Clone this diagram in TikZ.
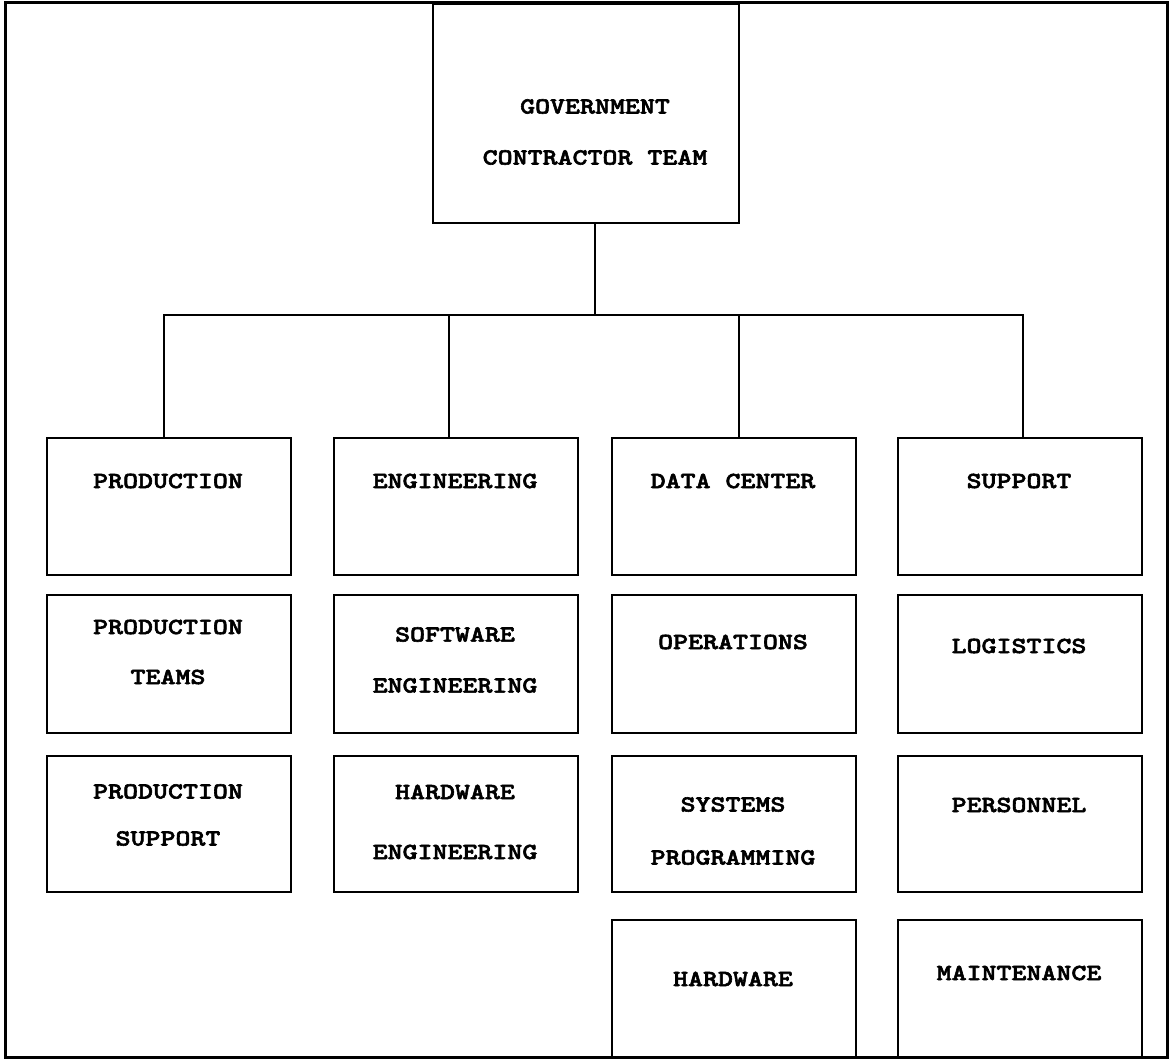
\documentclass[tikz,border=0pt]{standalone}
\usepackage{fontspec}
\newfontfamily\orgfont{lmmonolt10-bold.otf}[FakeStretch=1.24, FakeBold=2.5]
\tikzset{
  orgbox/.style={draw, line width=2pt, minimum width=244pt, minimum height=137pt, inner sep=0pt, anchor=north west},
  unitname/.style={font=\fontsize{23}{50}\selectfont\orgfont, align=center, inner sep=0pt},
  wire/.style={line width=2pt}
}
\begin{document}
\begin{tikzpicture}[x=1pt, y=-1pt]
	\useasboundingbox (0,0) rectangle (1171,1059);
	% outer frame
	\draw[line width=3pt] (5,3) rectangle (1167,1057);
	
	% TOP: government / contractor team
	\node[orgbox, minimum width=306pt, minimum height=219pt] (gov) at (432,3) {};
	\node[unitname] (govT) at (595,132) {GOVERNMENT\\[1pt]CONTRACTOR TEAM};
	
	% FIRST ROW: the four divisions
	\node[orgbox] (prod) at (46,437) {};
	\node[orgbox] (eng) at (333,437) {};
	\node[orgbox] (dc) at (611,437) {};
	\node[orgbox] (sup) at (897,437) {};
	\node[unitname] (prodT) at (168,481) {PRODUCTION};
	\node[unitname] (engT) at (455,481) {ENGINEERING};
	\node[unitname] (dcT) at (733,481) {DATA CENTER};
	\node[unitname] (supT) at (1019,481) {SUPPORT};
	
	% tree lines, bus at y=315
	\coordinate (bus) at (595,315);
	\draw[wire] (bus |- gov.south) -- (bus);
	\draw[wire] ([xshift=-5pt]prod.north) |- (bus) -| ([xshift=3pt]sup.north);
	\draw[wire] ([xshift=-7pt]eng.north) -- ([xshift=-7pt]eng.north |- bus);
	\draw[wire] ([xshift=5pt]dc.north) -- ([xshift=5pt]dc.north |- bus);
	
	% SECOND ROW
	\node[orgbox, minimum height=138pt] (team) at (46,594) {};
	\node[orgbox, minimum height=138pt] (soft) at (333,594) {};
	\node[orgbox, minimum height=138pt] (ops) at (611,594) {};
	\node[orgbox, minimum height=138pt] (logi) at (897,594) {};
	\node[unitname] (teamT) at (168,652) {PRODUCTION\\TEAMS};
	\node[unitname] (softT) at (455,660) {SOFTWARE\\[1pt]ENGINEERING};
	\node[unitname] (opsT) at (733,642) {OPERATIONS};
	\node[unitname] (logiT) at (1019,646) {LOGISTICS};
	
	% THIRD ROW
	\node[orgbox, minimum height=136pt] (psup) at (46,755) {};
	\node[orgbox, minimum height=136pt] (hweng) at (333,755) {};
	\node[orgbox, minimum height=136pt] (sysp) at (611,755) {};
	\node[orgbox, minimum height=136pt] (pers) at (897,755) {};
	\node[unitname] (psupT) at (168,815) {PRODUCTION\\[-3pt]SUPPORT};
	\node[unitname] (hwengT) at (455,822) {HARDWARE\\[10pt]ENGINEERING};
	\node[unitname] (syspT) at (733,831) {SYSTEMS\\[3pt]PROGRAMMING};
	\node[unitname] (persT) at (1019,805) {PERSONNEL};
	
	% FOURTH ROW (cut by the frame)
	\node[orgbox, minimum height=138pt] (hw) at (611,919) {};
	\node[orgbox, minimum height=138pt] (mnt) at (897,919) {};
	\node[unitname] (hwT) at (733,979) {HARDWARE};
	\node[unitname] (mntT) at (1019,973) {MAINTENANCE};
\end{tikzpicture}
\end{document}
